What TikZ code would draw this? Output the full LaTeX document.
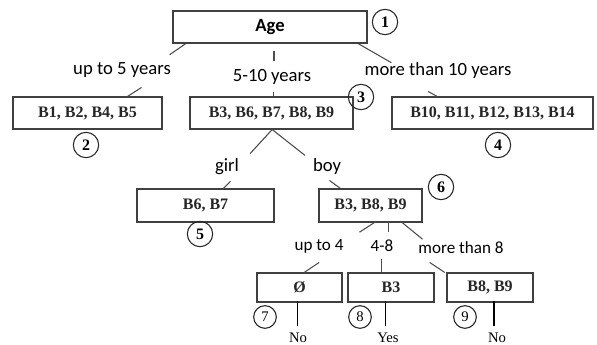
\documentclass[tikz,border=0pt]{standalone}
\usepackage{fontspec}
\setmainfont{Liberation Serif}
\newfontfamily\labelfont{Carlito}
\begin{document}
\begin{tikzpicture}[x=0.75pt,y=-0.75pt,
  line width=0.8pt,
  setbox/.style={draw=black!75, line width=0.8pt, rectangle, inner sep=0pt,
    text=black!85, font=\fontsize{12}{14}\selectfont\bfseries},
  rootbox/.style={draw=black!75, line width=1.1pt, rectangle, inner sep=0pt,
    font=\labelfont\fontsize{14}{16}\selectfont\bfseries},
  branch/.style={font=\labelfont\fontsize{14}{16}\selectfont, inner sep=1pt},
  minorbranch/.style={font=\labelfont\fontsize{12.8}{14}\selectfont, inner sep=1pt},
  tag/.style={circle, draw=black!85, line width=0.8pt, minimum size=19pt, inner sep=0pt,
    font=\fontsize{12}{13}\selectfont\bfseries},
  smalltag/.style={circle, draw=black!85, line width=0.8pt, minimum size=17pt, inner sep=0pt,
    font=\fontsize{11}{12}\selectfont},
  outcome/.style={font=\fontsize{11}{12}\selectfont, inner sep=1pt},
  link/.style={draw=black!70, line width=0.8pt},
  stem/.style={draw=black, line width=1pt}]
\useasboundingbox (0,0) rectangle (597,345);

% root
\node[rootbox, minimum width=145.5pt, minimum height=24pt] (age) at (270,27) {Age};
\node[tag] (t1) at (385,22) {1};

% first split
\node[branch] (lyoung) at (122,70) {up to 5 years};
\node[branch] (lmid) at (272,77) {5-10 years};
\node[branch] (lold) at (438,71) {more than 10 years};

\node[setbox, minimum width=111.75pt, minimum height=24pt] (b1) at (87.5,113) {B1, B2, B4, B5};
\node[setbox, minimum width=122.25pt, minimum height=24pt] (b3) at (271.5,113) {B3, B6, B7, B8, B9};
\node[setbox, minimum width=150.75pt, minimum height=24pt] (b10) at (492.5,113) {B10, B11, B12, B13, B14};
\node[tag] (t2) at (86,145) {2};
\node[tag] (t3) at (361,97) {3};
\node[tag] (t4) at (498,145) {4};

\draw[link] ([xshift=10]age.south west) -- ++(-16,11);
\draw[link] ([xshift=30]b1.north) -- ++(14,-9);
\draw[link] ([xshift=3]age.south) ++(0,7) -- ++(0,10);
\draw[link] ([xshift=1.5]b3.north) -- ++(0,-4);
\draw[link] ([xshift=-7]age.south east) -- ++(33,19);
\draw[link] ([xshift=-41.5]b10.north) -- ++(-9,-5);

% second split
\node[branch] (lgirl) at (227,167) {girl};
\node[branch] (lboy) at (327,167) {boy};
\node[setbox, minimum width=102.75pt, minimum height=24.75pt] (b6) at (205.5,205.5) {B6, B7};
\node[setbox, minimum width=77.25pt, minimum height=24.75pt] (b389) at (370.5,205.5) {B3, B8, B9};
\node[tag] (t5) at (200,234) {5};
\node[tag] (t6) at (441,187) {6};

\coordinate (s3) at ([xshift=0.5]b3.south);
\draw[link] (s3) -- ++(-22,24);
\draw[link] (s3) -- ++(33,26);
\draw[link] ([xshift=13.5]b6.north) -- ++(7,-7);
\draw[link] ([xshift=-22.5]b389.north) -- ++(-11,-8);

% third split
\node[minorbranch] (lsmall) at (319,246) {up to 4};
\node[minorbranch] (lmed) at (382,246) {4-8};
\node[minorbranch] (lbig) at (461,248) {more than 8};

\node[setbox, minimum width=63.75pt, minimum height=21.75pt] (e) at (299.5,287.5) {Ø};
\node[setbox, minimum width=64.5pt, minimum height=21.75pt] (b3b) at (391,287.5) {B3};
\node[setbox, minimum width=64.5pt, minimum height=21.75pt] (b89) at (490,287.5) {B8, B9};

\draw[link] ([xshift=4.5,yshift=1]b389.south) -- ++(-17,11);
\draw[link] ([xshift=13.5,yshift=1]b389.south) -- ++(0,11);
\draw[link] ([xshift=22.5,yshift=1]b389.south) -- ++(22,18);
\draw[link] ([xshift=3.5]e.north) -- ++(15,-10);
\draw[link] ([xshift=-7]b3b.north) -- ++(0,-13);
\draw[link] ([xshift=-34]b89.north) -- ++(-15,-10);

\node[smalltag] (t7) at (265,317) {7};
\node[smalltag] (t8) at (360,317) {8};
\node[smalltag] (t9) at (465,317) {9};

\node[outcome] (o1) at (298,337.5) {No};
\node[outcome] (o2) at (388,337.5) {Yes};
\node[outcome] (o3) at (497,337.5) {No};

% stems from the leaf sets down to the outcomes
\draw[stem] ([xshift=-1.5,yshift=1]e.south) -- ++(0,25);
\draw[stem] ([xshift=-4,yshift=1]b3b.south) -- ++(0,25);
\draw[stem] ([xshift=3,yshift=1]b89.south) -- ++(0,25);
\end{tikzpicture}
\end{document}
